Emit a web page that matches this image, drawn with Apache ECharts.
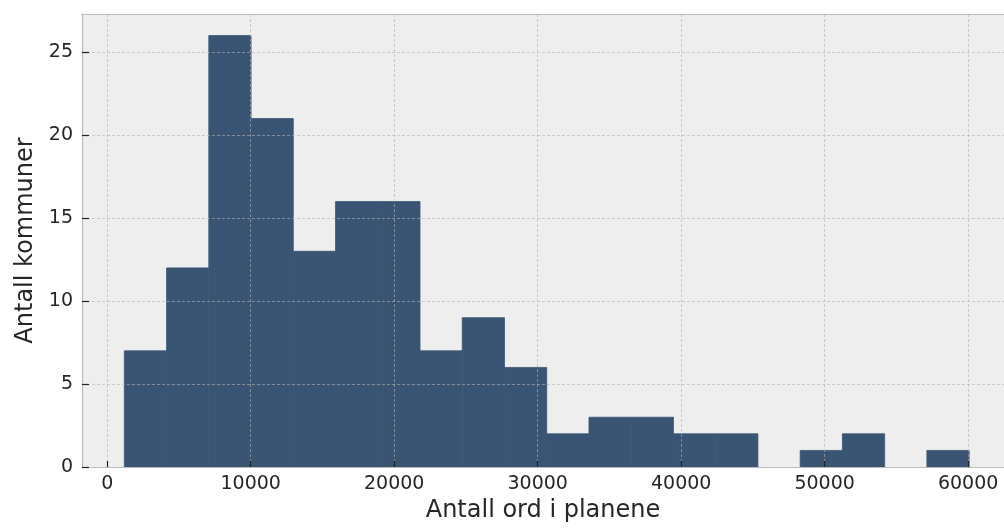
<!DOCTYPE html>
<html>
<head>
<meta charset="utf-8">
<script src="https://cdn.jsdelivr.net/npm/echarts@6/dist/echarts.min.js"></script>
<style>
html,body{margin:0;padding:0;background:#fff;}
#c{width:1004px;height:528px;}
</style>
</head>
<body>
<div id="c"></div>
<script>
// Histogram bin edges (words per plan) and counts (number of municipalities)
var binEdges = [1190, 4134, 7078, 10022, 12966, 15910, 18854, 21798, 24742, 27686, 30630,
                33574, 36518, 39462, 42406, 45350, 48294, 51238, 54182, 57126, 60070];
var counts = [7, 12, 26, 21, 13, 16, 16, 7, 9, 6, 2, 3, 3, 2, 2, 0, 1, 2, 0, 1];
var xTitle = 'Antall ord i planene';
var yTitle = 'Antall kommuner';

var data = [];
for (var i = 0; i < counts.length; i++) {
  data.push([binEdges[i], binEdges[i + 1], counts[i]]);
}

var font = 'DejaVu Sans';
var frame = '#bcbcbc';
var barColor = '#3a5573';
var chart = echarts.init(document.getElementById('c'), null, {renderer: 'canvas'});
chart.setOption({
  animation: false,
  backgroundColor: '#ffffff',
  grid: {
    left: 82, right: 0, top: 14, bottom: 61,
    show: true, backgroundColor: '#eeeeee', borderWidth: 0,
    containLabel: false
  },
  xAxis: [{
    type: 'value', min: -1760, max: 62500,
    minInterval: 10000, maxInterval: 10000,
    z: 5,
    name: xTitle, nameLocation: 'middle', nameGap: 32,
    nameTextStyle: {fontFamily: font, fontSize: 24, color: '#262626'},
    axisLine: {show: true, onZero: false, lineStyle: {color: frame, width: 1.2}},
    axisTick: {show: true, inside: true, length: 6, lineStyle: {color: '#222', width: 1.2}},
    axisLabel: {fontFamily: font, fontSize: 19, color: '#262626', margin: 8,
                showMinLabel: false, showMaxLabel: false,
                formatter: function (v) { return String(v); }},
    splitLine: {show: true, lineStyle: {color: '#b2b2b2', width: 1, type: [3, 2], opacity: 0.6}}
  }, {
    type: 'value', position: 'top', min: -1760, max: 62500,
    z: 5,
    axisLine: {show: true, onZero: false, lineStyle: {color: frame, width: 1.2}},
    axisTick: {show: false}, axisLabel: {show: false}, splitLine: {show: false}
  }],
  yAxis: {
    type: 'value', min: 0, max: 27.3, interval: 5,
    z: 5,
    name: yTitle, nameLocation: 'middle', nameGap: 44,
    nameTextStyle: {fontFamily: font, fontSize: 24, color: '#262626'},
    axisLine: {show: true, onZero: false, lineStyle: {color: frame, width: 1.2}},
    axisTick: {show: true, inside: true, length: 7, lineStyle: {color: '#222', width: 1.2}},
    axisLabel: {fontFamily: font, fontSize: 19, color: '#262626', margin: 9,
                showMaxLabel: false},
    splitLine: {show: true, lineStyle: {color: '#b2b2b2', width: 1, type: [3, 2], opacity: 0.6}}
  },
  series: [{
    type: 'custom',
    z: 2,
    data: data,
    encode: {x: [0, 1], y: 2},
    renderItem: function (params, api) {
      if (api.value(2) <= 0) { return null; }
      var p0 = api.coord([api.value(0), 0]);
      var p1 = api.coord([api.value(1), api.value(2)]);
      return {
        type: 'rect',
        shape: {x: p0[0], y: p1[1], width: p1[0] - p0[0], height: p0[1] - p1[1]},
        style: {fill: barColor, stroke: barColor, lineWidth: 0.8}
      };
    }
  }]
});
</script>
</body>
</html>
